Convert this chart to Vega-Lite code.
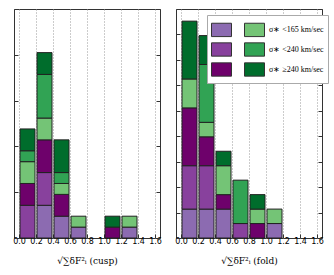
{
  "$schema": "https://vega.github.io/schema/vega-lite/v6.json",
  "padding": {"left": 12, "top": 8, "right": 0, "bottom": 0},
  "background": "white",
  "config": {
    "view": {"stroke": "#333", "strokeWidth": 1},
    "concat": {"spacing": 12},
    "axis": {"labelFont": "DejaVu Sans", "labelFontSize": 8, "labelColor": "black", "titleFont": "DejaVu Serif", "titleFontSize": 9, "titleFontWeight": "normal", "titleColor": "black", "tickColor": "#333", "labelOverlap": false, "minExtent": 0}
  },
  "data": {"values": [
    {"panel": "cusp", "bin": 0.1, "grp": "2 purple <240", "n": 3},
    {"panel": "cusp", "bin": 0.1, "grp": "3 purple >=240", "n": 2},
    {"panel": "cusp", "bin": 0.1, "grp": "4 green <165", "n": 2},
    {"panel": "cusp", "bin": 0.1, "grp": "5 green <240", "n": 1},
    {"panel": "cusp", "bin": 0.1, "grp": "6 green >=240", "n": 2},
    {"panel": "cusp", "bin": 0.3, "grp": "1 purple <165", "n": 3},
    {"panel": "cusp", "bin": 0.3, "grp": "2 purple <240", "n": 3},
    {"panel": "cusp", "bin": 0.3, "grp": "3 purple >=240", "n": 3},
    {"panel": "cusp", "bin": 0.3, "grp": "4 green <165", "n": 2},
    {"panel": "cusp", "bin": 0.3, "grp": "5 green <240", "n": 4},
    {"panel": "cusp", "bin": 0.3, "grp": "6 green >=240", "n": 2},
    {"panel": "cusp", "bin": 0.5, "grp": "1 purple <165", "n": 2},
    {"panel": "cusp", "bin": 0.5, "grp": "3 purple >=240", "n": 2},
    {"panel": "cusp", "bin": 0.5, "grp": "4 green <165", "n": 1},
    {"panel": "cusp", "bin": 0.5, "grp": "5 green <240", "n": 1},
    {"panel": "cusp", "bin": 0.5, "grp": "6 green >=240", "n": 3},
    {"panel": "cusp", "bin": 0.7, "grp": "1 purple <165", "n": 1},
    {"panel": "cusp", "bin": 0.7, "grp": "4 green <165", "n": 1},
    {"panel": "cusp", "bin": 1.1, "grp": "3 purple >=240", "n": 1},
    {"panel": "cusp", "bin": 1.1, "grp": "6 green >=240", "n": 1},
    {"panel": "cusp", "bin": 1.3, "grp": "1 purple <165", "n": 1},
    {"panel": "cusp", "bin": 1.3, "grp": "4 green <165", "n": 1},
    {"panel": "fold", "bin": 0.1, "grp": "1 purple <165", "n": 2},
    {"panel": "fold", "bin": 0.1, "grp": "2 purple <240", "n": 3},
    {"panel": "fold", "bin": 0.1, "grp": "3 purple >=240", "n": 4},
    {"panel": "fold", "bin": 0.1, "grp": "4 green <165", "n": 2},
    {"panel": "fold", "bin": 0.1, "grp": "6 green >=240", "n": 4},
    {"panel": "fold", "bin": 0.3, "grp": "1 purple <165", "n": 2},
    {"panel": "fold", "bin": 0.3, "grp": "2 purple <240", "n": 3},
    {"panel": "fold", "bin": 0.3, "grp": "3 purple >=240", "n": 2},
    {"panel": "fold", "bin": 0.3, "grp": "4 green <165", "n": 1},
    {"panel": "fold", "bin": 0.3, "grp": "5 green <240", "n": 4},
    {"panel": "fold", "bin": 0.3, "grp": "6 green >=240", "n": 2},
    {"panel": "fold", "bin": 0.5, "grp": "1 purple <165", "n": 2},
    {"panel": "fold", "bin": 0.5, "grp": "3 purple >=240", "n": 1},
    {"panel": "fold", "bin": 0.5, "grp": "4 green <165", "n": 2},
    {"panel": "fold", "bin": 0.5, "grp": "6 green >=240", "n": 1},
    {"panel": "fold", "bin": 0.7, "grp": "2 purple <240", "n": 1},
    {"panel": "fold", "bin": 0.7, "grp": "5 green <240", "n": 3},
    {"panel": "fold", "bin": 0.9, "grp": "3 purple >=240", "n": 1},
    {"panel": "fold", "bin": 0.9, "grp": "4 green <165", "n": 1},
    {"panel": "fold", "bin": 0.9, "grp": "6 green >=240", "n": 1},
    {"panel": "fold", "bin": 1.1, "grp": "1 purple <165", "n": 1},
    {"panel": "fold", "bin": 1.1, "grp": "4 green <165", "n": 1}
  ]},
  "hconcat": [
    {
      "width": 146, "height": 229,
      "transform": [{"filter": "datum.panel == 'cusp'"}],
      "layer": [
        {
          "mark": {"type": "bar", "size": 15, "stroke": "#222", "strokeWidth": 1},
          "encoding": {
            "x": {"field": "bin", "type": "quantitative", "scale": {"domain": [0, 1.6], "nice": false},
              "axis": {"values": [0, 0.2, 0.4, 0.6, 0.8, 1.0, 1.2, 1.4, 1.6], "format": ".1f", "grid": true, "gridDash": [1, 2], "gridColor": "#999", "domain": false, "tickSize": -4, "labelPadding": 3, "labelOverlap": false, "title": "√∑δF²ᵢ  (cusp)", "titlePadding": 11}},
            "y": {"field": "n", "type": "quantitative", "stack": "zero", "scale": {"domain": [0, 21], "nice": false},
              "axis": {"orient": "left", "values": [0, 4.2, 8.4, 12.6, 16.8, 21], "labels": false, "tickSize": -4, "domain": false, "grid": false, "title": null}},
            "color": {"field": "grp", "type": "nominal",
              "scale": {"domain": ["1 purple <165", "2 purple <240", "3 purple >=240", "4 green <165", "5 green <240", "6 green >=240"],
                        "range": ["#8c6bb1", "#88419d", "#6e016b", "#74c476", "#31a354", "#006d2c"]},
              "legend": null},
            "order": {"field": "grp", "sort": "ascending"}
          }
        },
        {
          "mark": {"type": "rule", "opacity": 0},
          "encoding": {
            "y": {"field": "n", "type": "quantitative", "scale": {"domain": [0, 21], "nice": false},
              "axis": {"orient": "right", "values": [0, 4.2, 8.4, 12.6, 16.8, 21], "labels": false, "tickSize": -4, "domain": false, "grid": false, "title": null}}
          }
        }
      ],
      "resolve": {"scale": {"y": "independent"}}
    },
    {
      "width": 146, "height": 229,
      "transform": [{"filter": "datum.panel == 'fold'"}],
      "layer": [
        {
          "mark": {"type": "bar", "size": 15, "stroke": "#222", "strokeWidth": 1},
          "encoding": {
            "x": {"field": "bin", "type": "quantitative", "scale": {"domain": [0, 1.6], "nice": false},
              "axis": {"values": [0, 0.2, 0.4, 0.6, 0.8, 1.0, 1.2, 1.4, 1.6], "format": ".1f", "grid": true, "gridDash": [1, 2], "gridColor": "#999", "domain": false, "tickSize": -4, "labelPadding": 3, "labelOverlap": false, "title": "√∑δF²ᵢ  (fold)", "titlePadding": 11}},
            "y": {"field": "n", "type": "quantitative", "stack": "zero", "scale": {"domain": [0, 15.84], "nice": false},
              "axis": {"orient": "left", "values": [0, 1.76, 3.52, 5.28, 7.04, 8.8, 10.56, 12.32, 14.08, 15.84], "labels": false, "tickSize": -4, "domain": false, "grid": false, "title": null}},
            "color": {"field": "grp", "type": "nominal",
              "scale": {"domain": ["1 purple <165", "2 purple <240", "3 purple >=240", "4 green <165", "5 green <240", "6 green >=240"],
                        "range": ["#8c6bb1", "#88419d", "#6e016b", "#74c476", "#31a354", "#006d2c"]},
              "legend": {"orient": "none", "legendX": 31, "legendY": 6, "columns": 2, "title": null,
                "symbolType": "M-1,-0.667H1V0.667H-1Z", "symbolSize": 400, "symbolStrokeColor": "#333", "symbolStrokeWidth": 1, "symbolOpacity": 1,
                "fillColor": "white", "strokeColor": "#aaa", "padding": 4, "labelOffset": 4, "columnPadding": 6, "rowPadding": 0,
                "labelFont": "Liberation Serif", "labelFontSize": 8, "labelColor": "black", "labelLimit": 0,
                "labelExpr": "datum.label == '4 green <165' ? 'σ∗ <165 km/sec' : datum.label == '5 green <240' ? 'σ∗ <240 km/sec' : datum.label == '6 green >=240' ? 'σ∗ ≥240 km/sec' : ''"}},
            "order": {"field": "grp", "sort": "ascending"}
          }
        },
        {
          "mark": {"type": "rule", "opacity": 0},
          "encoding": {
            "y": {"field": "n", "type": "quantitative", "scale": {"domain": [0, 15.84], "nice": false},
              "axis": {"orient": "right", "values": [0, 1.76, 3.52, 5.28, 7.04, 8.8, 10.56, 12.32, 14.08, 15.84], "labels": false, "tickSize": -4, "domain": false, "grid": false, "title": null}}
          }
        }
      ],
      "resolve": {"scale": {"y": "independent"}}
    }
  ],
  "resolve": {"scale": {"color": "independent"}, "legend": {"color": "independent"}}
}
